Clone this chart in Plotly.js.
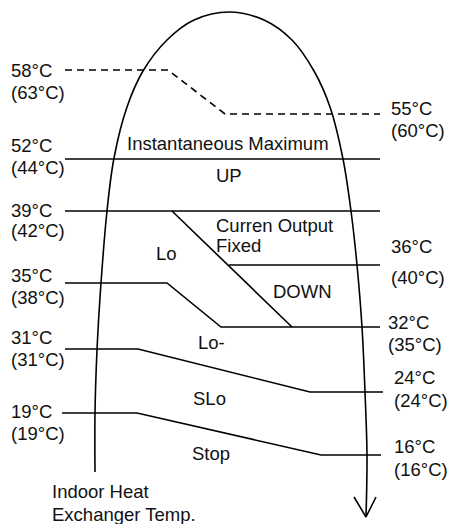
<!DOCTYPE html>
<html>
<head>
<meta charset="utf-8">
<script src="https://cdn.plot.ly/plotly-3.0.1.min.js"></script>
<style>html,body{margin:0;padding:0;background:#fff;}#chart{width:450px;height:524px;}</style>
</head>
<body>
<div id="chart"></div>
<script>
// Threshold labels (temperature, with value in brackets)
var leftMain = ["58°C", "52°C", "39°C", "35°C", "31°C", "19°C"];
var leftAlt  = ["(63°C)", "(44°C)", "(42°C)", "(38°C)", "(31°C)", "(19°C)"];
var rightMain = ["55°C", "36°C", "32°C", "24°C", "16°C"];
var rightAlt  = ["(60°C)", "(40°C)", "(35°C)", "(24°C)", "(16°C)"];
var zoneNames = ["Instantaneous Maximum", "UP", "Curren Output", "Fixed", "Lo", "DOWN", "Lo-", "SLo", "Stop"];
var axisCaption = ["Indoor Heat", "Exchanger Temp."];

// Diagram paths (diagram units)
var dashX = [65, 168, 225, 380];
var dashY = [70, 70, 114, 114];
var line52X = [65, 380]; var line52Y = [159, 159];
var line39X = [65, 380]; var line39Y = [211, 211];
var diagX = [172, 292]; var diagY = [211, 327];
var line36X = [229, 380]; var line36Y = [265, 265];
var line35X = [65, 167, 221, 380]; var line35Y = [283, 283, 327, 327];
var line31X = [65, 138, 310, 383]; var line31Y = [349, 349, 392, 392];
var line19X = [62, 137, 321, 381]; var line19Y = [413, 413, 455, 455];
var curveX = [95, 95, 97, 101, 107, 114, 127, 143, 167, 194, 229, 264, 292, 314, 330, 343, 351, 357, 362, 365, 367, 366];
var curveY = [472, 413, 350, 283, 211, 158, 107, 71, 40, 20, 12, 20, 40, 71, 107, 159, 211, 265, 327, 392, 455, 517];
var arrowX = [354, 366, 376];
var arrowY = [497, 517, 497];

// Label anchors
var leftLabelX = 11;
var leftMainY = [70, 145, 210, 275, 337, 411];
var leftAltY  = [92, 167, 230, 297, 359, 433];
var rightLabelX = [391, 391, 388, 394, 394];
var rightMainY = [108, 246, 322, 377, 446];
var rightAltY  = [130, 277, 344, 400, 469];
var zoneX = [228, 229, 216, 216, 156, 273, 198, 193, 192];
var zoneY = [143, 175, 225, 245, 253, 291, 342, 398, 453];
var zoneAnchor = ["center", "center", "left", "left", "left", "left", "left", "left", "left"];

var font = {family: "Liberation Sans, Arial, Helvetica, sans-serif", size: 18.5, color: "#111"};
var lw = 1.6;

function seg(x, y, extra) {
  var t = {x: x, y: y, mode: "lines", type: "scatter", hoverinfo: "skip",
           line: {color: "#000", width: lw}};
  if (extra) { for (var k in extra) t.line[k] = extra[k]; }
  return t;
}

var traces = [
  seg(dashX, dashY, {dash: "7px,5px"}),
  seg(line52X, line52Y), seg(line39X, line39Y), seg(diagX, diagY), seg(line36X, line36Y),
  seg(line35X, line35Y), seg(line31X, line31Y), seg(line19X, line19Y),
  seg(curveX, curveY, {shape: "spline", smoothing: 1}),
  seg(arrowX, arrowY)
];

var ann = [];
function addText(t, x, y, anchor) {
  ann.push({text: t, x: x, y: y, xref: "x", yref: "y", xanchor: anchor || "left", yanchor: "middle",
            showarrow: false, font: font, borderpad: 0, borderwidth: 0});
}
for (var i = 0; i < leftMain.length; i++) {
  addText(leftMain[i], leftLabelX, leftMainY[i]);
  addText(leftAlt[i], leftLabelX, leftAltY[i]);
}
for (var j = 0; j < rightMain.length; j++) {
  addText(rightMain[j], rightLabelX[j], rightMainY[j]);
  addText(rightAlt[j], rightLabelX[j], rightAltY[j]);
}
for (var z = 0; z < zoneNames.length; z++) {
  addText(zoneNames[z], zoneX[z], zoneY[z], zoneAnchor[z]);
}
addText(axisCaption[0], 52, 491);
addText(axisCaption[1], 52, 514);

var layout = {
  width: 450, height: 524,
  margin: {l: 0, r: 0, t: 0, b: 0},
  paper_bgcolor: "#fff", plot_bgcolor: "#fff",
  showlegend: false,
  xaxis: {range: [0, 450], visible: false, fixedrange: true},
  yaxis: {range: [524, 0], visible: false, fixedrange: true},
  annotations: ann
};
Plotly.newPlot("chart", traces, layout, {staticPlot: true, displayModeBar: false});
</script>
</body>
</html>
